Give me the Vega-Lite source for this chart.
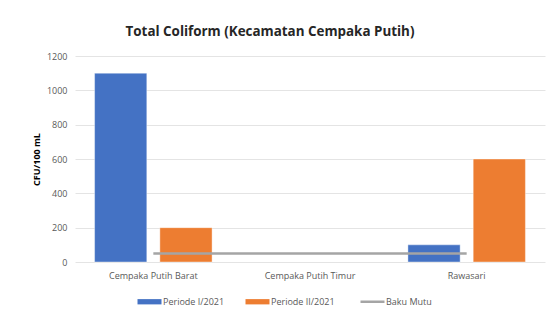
{
  "$schema": "https://vega.github.io/schema/vega-lite/v6.json",
  "width": 470,
  "height": 206,
  "autosize": {"type": "none"},
  "padding": {"left": 75, "top": 56, "right": 3, "bottom": 50},
  "background": "white",
  "config": {
    "font": "Open Sans",
    "view": {"stroke": null}
  },
  "title": {
    "text": "Total Coliform (Kecamatan Cempaka Putih)",
    "font": "Open Sans",
    "fontSize": 13.4,
    "fontWeight": "bold",
    "color": "#262626",
    "anchor": "middle",
    "dx": -40,
    "offset": 14
  },
  "datasets": {
    "bars": [
      {"lokasi": "Cempaka Putih Barat", "periode": "Periode I/2021", "nilai": 1100},
      {"lokasi": "Cempaka Putih Barat", "periode": "Periode II/2021", "nilai": 200},
      {"lokasi": "Cempaka Putih Timur", "periode": "Periode I/2021", "nilai": null},
      {"lokasi": "Cempaka Putih Timur", "periode": "Periode II/2021", "nilai": null},
      {"lokasi": "Rawasari", "periode": "Periode I/2021", "nilai": 100},
      {"lokasi": "Rawasari", "periode": "Periode II/2021", "nilai": 600}
    ],
    "baku": [
      {"lokasi": "Cempaka Putih Barat", "periode": "Baku Mutu", "nilai": 50},
      {"lokasi": "Cempaka Putih Timur", "periode": "Baku Mutu", "nilai": 50},
      {"lokasi": "Rawasari", "periode": "Baku Mutu", "nilai": 50}
    ]
  },
  "encoding": {
    "x": {
      "field": "lokasi",
      "type": "nominal",
      "sort": ["Cempaka Putih Barat", "Cempaka Putih Timur", "Rawasari"],
      "scale": {"paddingInner": 0.25, "paddingOuter": 0.125},
      "axis": {
        "title": null,
        "labelAngle": 0,
        "ticks": false,
        "domain": false,
        "labelPadding": 9,
        "labelFont": "Open Sans",
        "labelFontSize": 9,
        "labelColor": "#595959"
      }
    },
    "y": {
      "field": "nilai",
      "type": "quantitative",
      "scale": {"domain": [0, 1200]},
      "axis": {
        "title": "CFU/100 mL",
        "titleFont": "Open Sans",
        "titleFontSize": 9,
        "titleFontWeight": "bold",
        "titleColor": "#000000",
        "titlePadding": 5,
        "values": [0, 200, 400, 600, 800, 1000, 1200],
        "format": "d",
        "ticks": false,
        "domain": false,
        "labelPadding": 8,
        "labelFont": "Open Sans",
        "labelFontSize": 9,
        "labelColor": "#595959",
        "gridColor": "#e4e4e4",
        "gridWidth": 1
      }
    },
    "color": {
      "field": "periode",
      "type": "nominal",
      "scale": {
        "domain": ["Periode I/2021", "Periode II/2021", "Baku Mutu"],
        "range": ["#4472c4", "#ed7d31", "#a5a5a5"]
      },
      "legend": {
        "title": null,
        "orient": "none",
        "direction": "horizontal",
        "legendX": 70,
        "legendY": 241,
        "columnPadding": 20,
        "labelFont": "Open Sans",
        "labelFontSize": 9,
        "labelColor": "#595959",
        "labelOffset": 9,
        "encode": {
          "symbols": {
            "update": {
              "shape": {"signal": "datum.value === 'Baku Mutu' ? 'M-1,0H1' : 'M-1,-0.22H1V0.22H-1Z'"},
              "size": {"value": 576},
              "fill": {"scale": "color", "field": "value"},
              "stroke": {"scale": "color", "field": "value"},
              "strokeWidth": {"signal": "datum.value === 'Baku Mutu' ? 2.5 : 0"},
              "fillOpacity": {"value": 1},
              "opacity": {"value": 1}
            }
          }
        }
      }
    }
  },
  "layer": [
    {
      "data": {"name": "bars"},
      "mark": {"type": "bar", "stroke": "white", "strokeOpacity": 0.4, "strokeWidth": 1},
      "encoding": {
        "xOffset": {
          "field": "periode",
          "type": "nominal",
          "sort": ["Periode I/2021", "Periode II/2021"],
          "scale": {"paddingInner": 0.2, "paddingOuter": 0}
        }
      }
    },
    {
      "data": {"name": "baku"},
      "mark": {"type": "line", "strokeWidth": 2.5},
      "encoding": {}
    }
  ]
}
